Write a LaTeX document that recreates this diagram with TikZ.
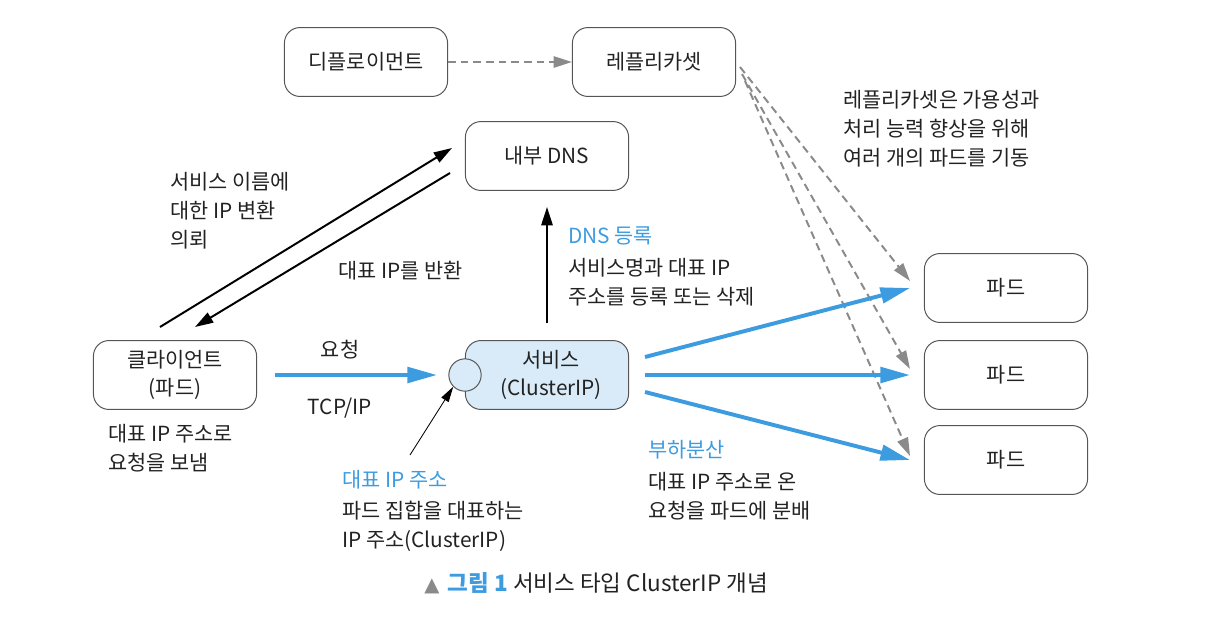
\documentclass[tikz,border=0pt]{standalone}
\usepackage{fontspec}
\setmainfont{Noto Sans CJK KR}
\newfontfamily\symfont{DejaVu Sans}
\usetikzlibrary{arrows.meta}
\definecolor{kblue}{HTML}{3D9BE0}
\definecolor{kfill}{HTML}{D9EBF8}
\definecolor{kgray}{HTML}{8A8A8A}
\definecolor{kedge}{HTML}{555555}
\definecolor{ktext}{HTML}{222222}
\tikzset{
  box/.style={draw=kedge, line width=0.7pt, rounded corners=11pt, minimum width=116pt, minimum height=49pt, align=center, inner sep=0pt},
  txt/.style={align=left, anchor=west, inner sep=0pt},
  bluearrow/.style={draw=kblue, line width=2.8pt, -{Triangle[length=21pt,width=11pt]}},
  blackarrow/.style={draw=black, line width=1.4pt, -{Triangle[length=13pt,width=8pt]}},
  grayarrow/.style={draw=kgray, line width=1.4pt, dash pattern=on 5.5pt off 3.5pt, -{Triangle[length=13pt,width=8pt]}},
  thinarrow/.style={draw=black, line width=0.6pt, -{Triangle[length=11pt,width=6pt]}},
}
\begin{document}
\begin{tikzpicture}[x=0.025cm, y=-0.025cm, font=\fontsize{14.8}{20.5}\selectfont, text=ktext]
\useasboundingbox (0,0) rectangle (1232,638);
% boxes
\node[box] (deploy) at (366,62) {디플로이먼트};
\node[box] (rs) at (654,62) {레플리카셋};
\node[box] (dns) at (547,156) {내부 DNS};
\node[box] (client) at (175,375) {클라이언트\\(파드)};
\node[box, fill=kfill] (svc) at (547,375) {\hspace*{6pt}서비스\\\hspace*{6pt}(ClusterIP)};
\node[draw=kedge, line width=0.7pt, fill=kfill, circle, minimum size=23pt, inner sep=0pt] (ip) at (465,375) {};
\node[box] (pod1) at (1006,288) {파드};
\node[box] (pod2) at (1006,375) {파드};
\node[box] (pod3) at (1006,460) {파드};
% coordinates
\coordinate (c1s) at (160,327);
\coordinate (c1e) at (452,148);
\coordinate (c2s) at (450,173);
\coordinate (c2e) at (195,327);
\coordinate (up1) at (547,323);
\coordinate (up2) at (547,207);
\coordinate (rq1) at (275,375);
\coordinate (rq2) at (437,375);
\coordinate (s1) at (645,357);
\coordinate (s2) at (645,375);
\coordinate (s3) at (645,392);
\coordinate (p1) at (910,288);
\coordinate (p2) at (910,375);
\coordinate (p3) at (910,460);
\coordinate (g0) at (740,67);
\coordinate (g1) at (742,74);
\coordinate (g2) at (745,81);
\coordinate (gp1) at (910,281);
\coordinate (gp2) at (910,369);
\coordinate (gp3) at (910,456);
\coordinate (ipl) at (410,455);
% connectors
\draw[grayarrow] (deploy.east) -- (rs.west);
\draw[grayarrow] (g0) -- (gp1);
\draw[grayarrow] (g1) -- (gp2);
\draw[grayarrow] (g2) -- (gp3);
\draw[blackarrow] (c1s) -- (c1e);
\draw[blackarrow] (c2s) -- (c2e);
\draw[blackarrow] (up1) -- (up2);
\draw[bluearrow] (rq1) -- (rq2);
\draw[bluearrow] (s1) -- (p1);
\draw[bluearrow] (s2) -- (p2);
\draw[bluearrow] (s3) -- (p3);
\draw[thinarrow] (ipl) -- (ip.south west);
% labels
\node[txt] at (170,211) {서비스 이름에\\대한 IP 변환\\의뢰};
\node[txt] at (338,271) {대표 IP를 반환};
\node[txt, text=kblue] at (568,236) {DNS 등록};
\node[txt] at (568,282) {서비스명과 대표 IP\\주소를 등록 또는 삭제};
\node[inner sep=0pt] at (340,350) {요청};
\node[inner sep=0pt] at (340,408) {TCP/IP};
\node[txt] at (108,448) {대표 IP 주소로\\요청을 보냄};
\node[txt, text=kblue] at (342,480) {대표 IP 주소};
\node[txt] at (342,526) {파드 집합을 대표하는\\IP 주소(ClusterIP)};
\node[txt, text=kblue] at (648,450) {부하분산};
\node[txt] at (648,496) {대표 IP 주소로 온\\요청을 파드에 분배};
\node[txt] at (843,129) {레플리카셋은 가용성과\\처리 능력 향상을 위해\\여러 개의 파드를 기동};
\node[inner sep=0pt, font=\fontsize{16}{20}\selectfont] at (596,583) {{\symfont\color{kgray}\fontsize{14}{16}\selectfont ▲}\hspace{6pt}{\bfseries\color{kblue}그림 1}\ {서비스 타입 ClusterIP 개념}};
\end{tikzpicture}
\end{document}
